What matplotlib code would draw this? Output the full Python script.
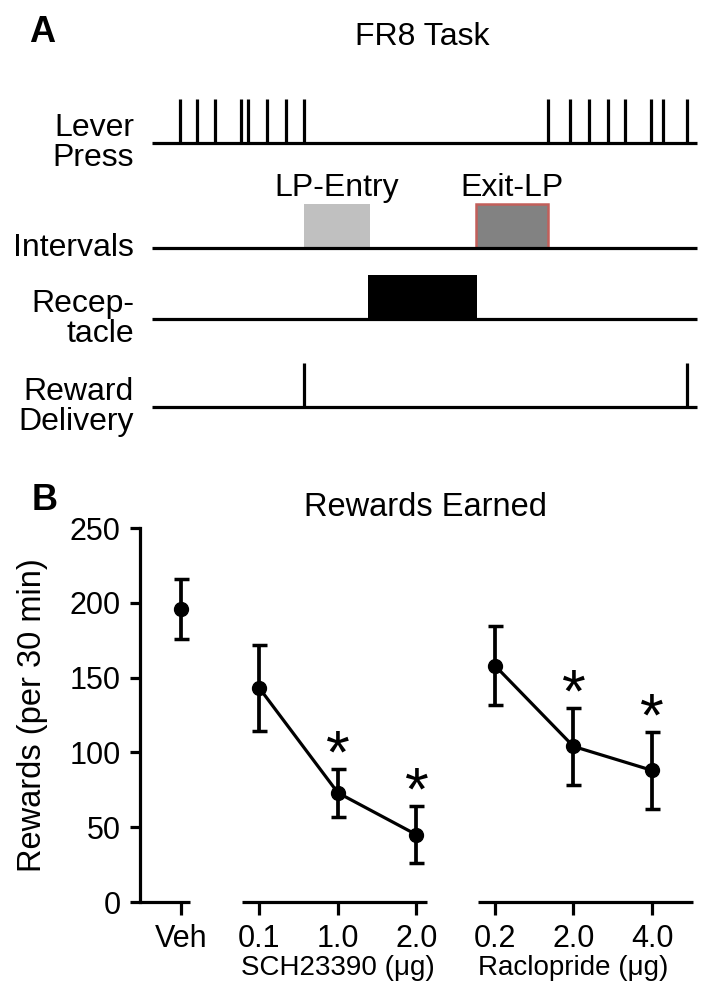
import numpy as np
import matplotlib
matplotlib.use("Agg")
import matplotlib.pyplot as plt
from matplotlib.patches import Rectangle
import matplotlib.transforms as mtransforms

plt.rcParams['font.family'] = ['Liberation Sans', 'DejaVu Sans']

# ---- panel A: FR8 schematic (time in arbitrary units, 0-100) ----
press_times = [5.2, 8.3, 11.6, 16.3, 17.7, 21.1, 24.5, 27.9,
               72.6, 76.7, 80.2, 83.6, 86.7, 91.5, 93.7, 98.2]
reward_times = [27.9, 98.2]
lp_entry = (27.8, 40.0)
exit_lp = (59.4, 72.7)
receptacle = (39.6, 59.6)

# ---- panel B: rewards earned ----
tick_labels = ["Veh", "0.1", "1.0", "2.0", "0.2", "2.0", "4.0"]
rewards = [196, 143, 73, 45, 158, 104, 88]
sem = [20, 29, 16, 19, 26.5, 26, 25.5]
signif = [False, False, True, True, False, True, True]
groups = [[0], [1, 2, 3], [4, 5, 6]]
group_names = ["SCH23390 (μg)", "Raclopride (μg)"]

W, H = 714, 999
fig = plt.figure(figsize=(W / 100, H / 100), dpi=100)
FS = 23
LW = 2.3

# top panel uses pixel rows for y
axA = fig.add_axes([152 / W, 1 - 440 / H, 545 / W, 380 / H])
axA.set_xlim(0, 100)
axA.set_ylim(440, 60)
axA.axis("off")

rows = {"Lever\nPress": 143, "Intervals": 248, "Recep-\ntacle": 319, "Reward\nDelivery": 407}
h = 44
for name, yb in rows.items():
    axA.plot([0, 100], [yb, yb], color="black", lw=LW, solid_capstyle="butt", clip_on=False)
    axA.text(-3.3, yb, name, ha="right", va="center", fontsize=FS, linespacing=1.0)

y_lever = rows["Lever\nPress"]
axA.vlines(press_times, y_lever - h, y_lever, color="black", lw=LW)
y_rew = rows["Reward\nDelivery"]
axA.vlines(reward_times, y_rew - h, y_rew, color="black", lw=LW)

y_int = rows["Intervals"]
axA.add_patch(Rectangle((lp_entry[0], y_int - h), lp_entry[1] - lp_entry[0], h,
                        facecolor="#c0c0c0", edgecolor="none", zorder=1))
axA.add_patch(Rectangle((exit_lp[0], y_int - h), exit_lp[1] - exit_lp[0], h,
                        facecolor="#828282", edgecolor="#c25f5a", lw=1.8, zorder=1))
axA.text(np.mean(lp_entry), 188, "LP-Entry", ha="center", va="center", fontsize=FS)
axA.text(np.mean(exit_lp), 188, "Exit-LP", ha="center", va="center", fontsize=FS)

y_rec = rows["Recep-\ntacle"]
axA.add_patch(Rectangle((receptacle[0], y_rec - h), receptacle[1] - receptacle[0], h,
                        facecolor="black", edgecolor="none", zorder=1))

fig.text(42 / W, 1 - 32 / H, "A", fontsize=26, fontweight="bold", ha="center", va="center")
fig.text(422 / W, 1 - 37 / H, "FR8 Task", fontsize=FS, ha="center", va="center")

# bottom panel
x0, x1 = -0.525, 6.55
axB = fig.add_axes([139.6 / W, 1 - 902 / H, 555.6 / W, 374 / H])
axB.set_xlim(x0, x1)
axB.set_ylim(0, 250)
x = np.arange(len(rewards))

for g in groups:
    axB.plot(x[g], np.array(rewards)[g], color="black", lw=LW, zorder=2)
axB.errorbar(x, rewards, yerr=sem, fmt="o", color="black", ms=10, elinewidth=2.7,
             capsize=5.4, capthick=2.5, zorder=3)

for xi, r, s, sg in zip(x, rewards, sem, signif):
    if sg:
        axB.text(xi, r + s + 8, "*", ha="center", va="center", fontsize=44)

for sp in ["top", "right", "bottom"]:
    axB.spines[sp].set_visible(False)
axB.spines["left"].set_linewidth(LW)
axB.spines["left"].set_bounds(0, 250)

for a, b in [(x0, 0.12), (0.78, 3.14), (3.79, 6.52)]:
    axB.plot([a, b], [0, 0], color="black", lw=LW, solid_capstyle="butt", clip_on=False)

axB.set_yticks([0, 50, 100, 150, 200, 250])
axB.set_xticks(x)
axB.set_xticklabels(tick_labels)
axB.tick_params(axis="both", labelsize=22, width=LW, direction="out")
axB.tick_params(axis="x", length=9.5, pad=6)
axB.tick_params(axis="y", length=7.5, pad=6)
axB.set_ylabel("Rewards (per 30 min)", fontsize=23.5)
axB.yaxis.set_label_coords(-0.165, 0.5)

trans = mtransforms.blended_transform_factory(axB.transData, axB.transAxes)
for name, cx in zip(group_names, [2, 5]):
    axB.text(cx, -0.176, name, transform=trans, ha="center", va="center", fontsize=20)

fig.text(45 / W, 1 - 500 / H, "B", fontsize=26, fontweight="bold", ha="center", va="center")
fig.text(426 / W, 1 - 507 / H, "Rewards Earned", fontsize=23.5, ha="center", va="center")

fig.savefig("out.png", dpi=100)
